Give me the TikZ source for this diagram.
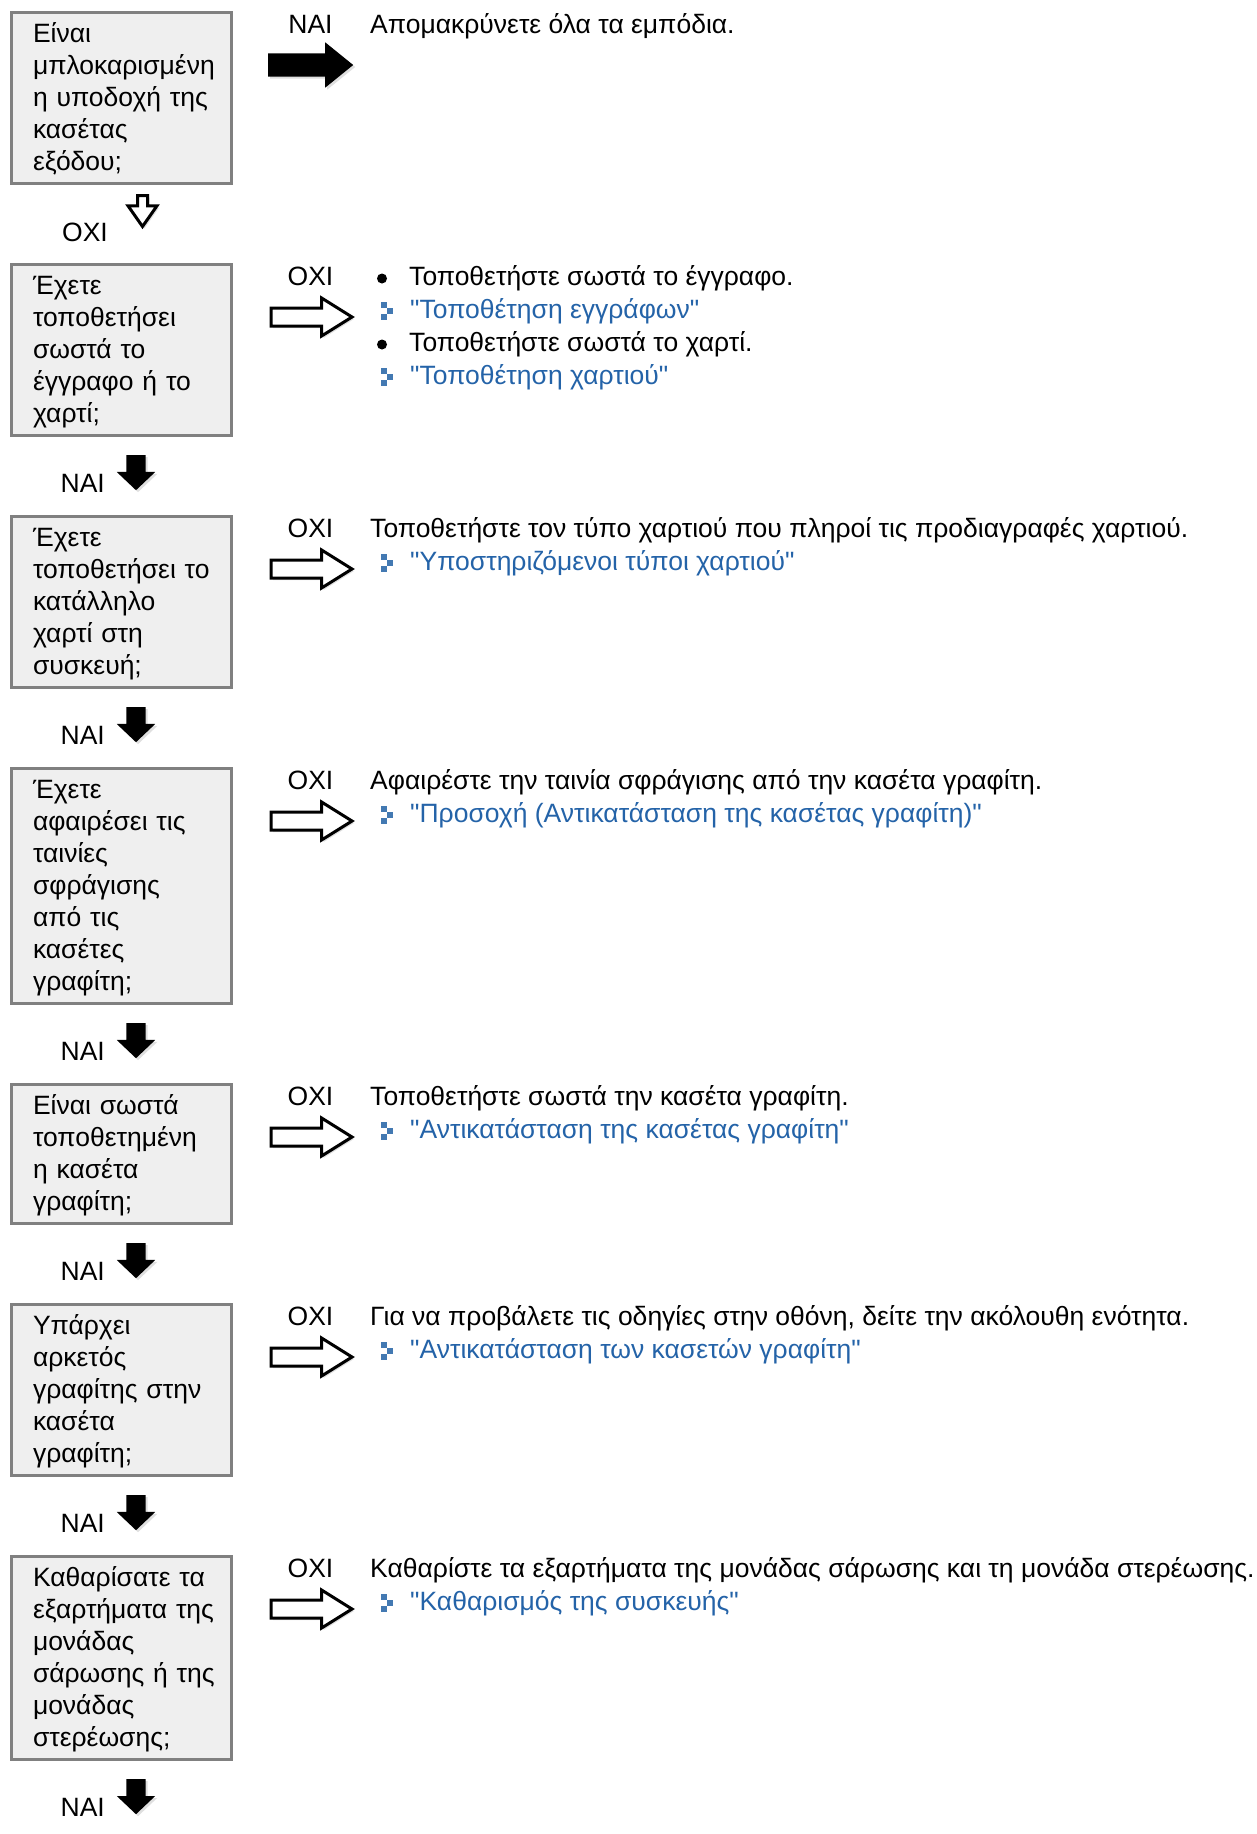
\documentclass[tikz,border=0pt]{standalone}
\usepackage{fontspec}
\setmainfont{Liberation Sans}[Ligatures=TeXOff]
\usetikzlibrary{positioning, shapes.arrows, shadows}

\definecolor{boxfill}{HTML}{EFEFEF}
\definecolor{boxline}{HTML}{808080}
\definecolor{linkblue}{HTML}{2463A8}
\definecolor{iconblue}{HTML}{4379B2}

\begin{document}
\begin{tikzpicture}[x=1pt, y=1pt,
    question/.style={draw=boxline, fill=boxfill, line width=3pt, align=left,
        text width=177pt, inner xsep=21.5pt, inner ysep=5.5pt,
        font=\fontsize{26.5}{32}\selectfont,
        execute at begin node={\rightskip=0pt minus 40pt\rule{0pt}{24pt}},
        execute at end node={\rule[-8pt]{0pt}{8pt}}},
    ans/.style={font=\fontsize{26.5}{32}\selectfont, inner sep=0pt, anchor=base},
    note/.style={font=\fontsize{26.5}{32}\selectfont, inner sep=0pt, anchor=base west},
    link/.style={note, text=linkblue},
    shade/.style={drop shadow={shadow xshift=2pt, shadow yshift=-2pt, opacity=0.25}},
    yesright/.style={single arrow, fill=black, shade, anchor=tail, inner xsep=0pt,
        inner ysep=11.5pt, minimum height=85pt, minimum width=0pt,
        single arrow head extend=11pt, single arrow tip angle=78},
    noright/.style={single arrow, draw=black, fill=white, line width=3pt, shade,
        anchor=tail, inner xsep=0pt, inner ysep=7.5pt, minimum height=81pt,
        minimum width=0pt, single arrow head extend=10pt, single arrow tip angle=64},
    yesdown/.style={single arrow, fill=black, shade, rotate=-90, anchor=tail,
        inner xsep=0pt, inner ysep=9.5pt, minimum height=35pt, minimum width=0pt,
        single arrow head extend=9.5pt, single arrow tip angle=93},
    nodown/.style={single arrow, draw=black, fill=white, line width=3pt, shade,
        rotate=-90, anchor=tail, inner xsep=0pt, inner ysep=3.5pt,
        minimum height=31pt, minimum width=0pt, single arrow head extend=9.5pt,
        single arrow tip angle=70},
    linkicon/.pic={
        \fill[iconblue] (-6,3) rectangle (0,9);
        \fill[iconblue] (0,-3) rectangle (6,3);
        \fill[iconblue] (-6,-9) rectangle (0,-3);
    }
]
    \useasboundingbox (0,0) rectangle (1256,-1834);

    % row 1
    \node[question, anchor=north west] (q1) at (10,-11)
        {Είναι\\μπλοκαρισμένη\\η υποδοχή της\\κασέτας\\εξόδου;};
    \node[ans] (a1) at ([shift={(300.5,-22.5)}]q1.north west) {ΝΑΙ};
    \node[yesright] (r1) at ([shift={(258,-54)}]q1.north west) {};
    \node[note] (t1) at ([shift={(360,-22.5)}]q1.north west)
        {Απομακρύνετε όλα τα εμπόδια.};
    \node[ans, anchor=base east] (d1) at ([shift={(98,-56)}]q1.south west) {ΟΧΙ};
    \node[nodown] (s1) at ([shift={(132.5,-9)}]q1.south west) {};

    % row 2
    \node[question, below=78pt of q1] (q2)
        {Έχετε\\τοποθετήσει\\σωστά το\\έγγραφο ή το\\χαρτί;};
    \node[ans] (a2) at ([shift={(300.5,-22.5)}]q2.north west) {ΟΧΙ};
    \node[noright] (r2) at ([shift={(259.5,-54)}]q2.north west) {};
    \node[note] (t2) at ([shift={(399,-22.5)}]q2.north west)
        {Τοποθετήστε σωστά το έγγραφο.};
    \node[link] (l2) at ([shift={(400,-55.5)}]q2.north west)
        {"Τοποθέτηση εγγράφων"};
    \node[note] (t2b) at ([shift={(399,-88.5)}]q2.north west)
        {Τοποθετήστε σωστά το χαρτί.};
    \node[link] (l2b) at ([shift={(400,-121.5)}]q2.north west)
        {"Τοποθέτηση χαρτιού"};
    \fill ([shift={(-27,7)}]t2.base west) circle (5);
    \fill ([shift={(-27,7)}]t2b.base west) circle (5);
    \pic at ([shift={(-23,8)}]l2.base west) {linkicon};
    \pic at ([shift={(-23,8)}]l2b.base west) {linkicon};
    \node[ans, anchor=base east] (d2) at ([shift={(95,-55)}]q2.south west) {ΝΑΙ};
    \node[yesdown] (s2) at ([shift={(126,-18)}]q2.south west) {};

    % row 3
    \node[question, below=78pt of q2] (q3)
        {Έχετε\\τοποθετήσει το\\κατάλληλο\\χαρτί στη\\συσκευή;};
    \node[ans] (a3) at ([shift={(300.5,-22.5)}]q3.north west) {ΟΧΙ};
    \node[noright] (r3) at ([shift={(259.5,-54)}]q3.north west) {};
    \node[note] (t3) at ([shift={(360,-22.5)}]q3.north west)
        {Τοποθετήστε τον τύπο χαρτιού που πληροί τις προδιαγραφές χαρτιού.};
    \node[link] (l3) at ([shift={(400,-55.5)}]q3.north west)
        {"Υποστηριζόμενοι τύποι χαρτιού"};
    \pic at ([shift={(-23,8)}]l3.base west) {linkicon};
    \node[ans, anchor=base east] (d3) at ([shift={(95,-55)}]q3.south west) {ΝΑΙ};
    \node[yesdown] (s3) at ([shift={(126,-18)}]q3.south west) {};

    % row 4
    \node[question, below=78pt of q3] (q4)
        {Έχετε\\αφαιρέσει τις\\ταινίες\\σφράγισης\\από τις\\κασέτες\\γραφίτη;};
    \node[ans] (a4) at ([shift={(300.5,-22.5)}]q4.north west) {ΟΧΙ};
    \node[noright] (r4) at ([shift={(259.5,-54)}]q4.north west) {};
    \node[note] (t4) at ([shift={(360,-22.5)}]q4.north west)
        {Αφαιρέστε την ταινία σφράγισης από την κασέτα γραφίτη.};
    \node[link] (l4) at ([shift={(400,-55.5)}]q4.north west)
        {"Προσοχή (Αντικατάσταση της κασέτας γραφίτη)"};
    \pic at ([shift={(-23,8)}]l4.base west) {linkicon};
    \node[ans, anchor=base east] (d4) at ([shift={(95,-55)}]q4.south west) {ΝΑΙ};
    \node[yesdown] (s4) at ([shift={(126,-18)}]q4.south west) {};

    % row 5
    \node[question, below=78pt of q4] (q5)
        {Είναι σωστά\\τοποθετημένη\\η κασέτα\\γραφίτη;};
    \node[ans] (a5) at ([shift={(300.5,-22.5)}]q5.north west) {ΟΧΙ};
    \node[noright] (r5) at ([shift={(259.5,-54)}]q5.north west) {};
    \node[note] (t5) at ([shift={(360,-22.5)}]q5.north west)
        {Τοποθετήστε σωστά την κασέτα γραφίτη.};
    \node[link] (l5) at ([shift={(400,-55.5)}]q5.north west)
        {"Αντικατάσταση της κασέτας γραφίτη"};
    \pic at ([shift={(-23,8)}]l5.base west) {linkicon};
    \node[ans, anchor=base east] (d5) at ([shift={(95,-55)}]q5.south west) {ΝΑΙ};
    \node[yesdown] (s5) at ([shift={(126,-18)}]q5.south west) {};

    % row 6
    \node[question, below=78pt of q5] (q6)
        {Υπάρχει\\αρκετός\\γραφίτης στην\\κασέτα\\γραφίτη;};
    \node[ans] (a6) at ([shift={(300.5,-22.5)}]q6.north west) {ΟΧΙ};
    \node[noright] (r6) at ([shift={(259.5,-54)}]q6.north west) {};
    \node[note] (t6) at ([shift={(360,-22.5)}]q6.north west)
        {Για να προβάλετε τις οδηγίες στην οθόνη, δείτε την ακόλουθη ενότητα.};
    \node[link] (l6) at ([shift={(400,-55.5)}]q6.north west)
        {"Αντικατάσταση των κασετών γραφίτη"};
    \pic at ([shift={(-23,8)}]l6.base west) {linkicon};
    \node[ans, anchor=base east] (d6) at ([shift={(95,-55)}]q6.south west) {ΝΑΙ};
    \node[yesdown] (s6) at ([shift={(126,-18)}]q6.south west) {};

    % row 7
    \node[question, below=78pt of q6] (q7)
        {Καθαρίσατε τα\\εξαρτήματα της\\μονάδας\\σάρωσης ή της\\μονάδας\\στερέωσης;};
    \node[ans] (a7) at ([shift={(300.5,-22.5)}]q7.north west) {ΟΧΙ};
    \node[noright] (r7) at ([shift={(259.5,-54)}]q7.north west) {};
    \node[note] (t7) at ([shift={(360,-22.5)}]q7.north west)
        {Καθαρίστε τα εξαρτήματα της μονάδας σάρωσης και τη μονάδα στερέωσης.};
    \node[link] (l7) at ([shift={(400,-55.5)}]q7.north west)
        {"Καθαρισμός της συσκευής"};
    \pic at ([shift={(-23,8)}]l7.base west) {linkicon};
    \node[ans, anchor=base east] (d7) at ([shift={(95,-55)}]q7.south west) {ΝΑΙ};
    \node[yesdown] (s7) at ([shift={(126,-18)}]q7.south west) {};
\end{tikzpicture}
\end{document}
